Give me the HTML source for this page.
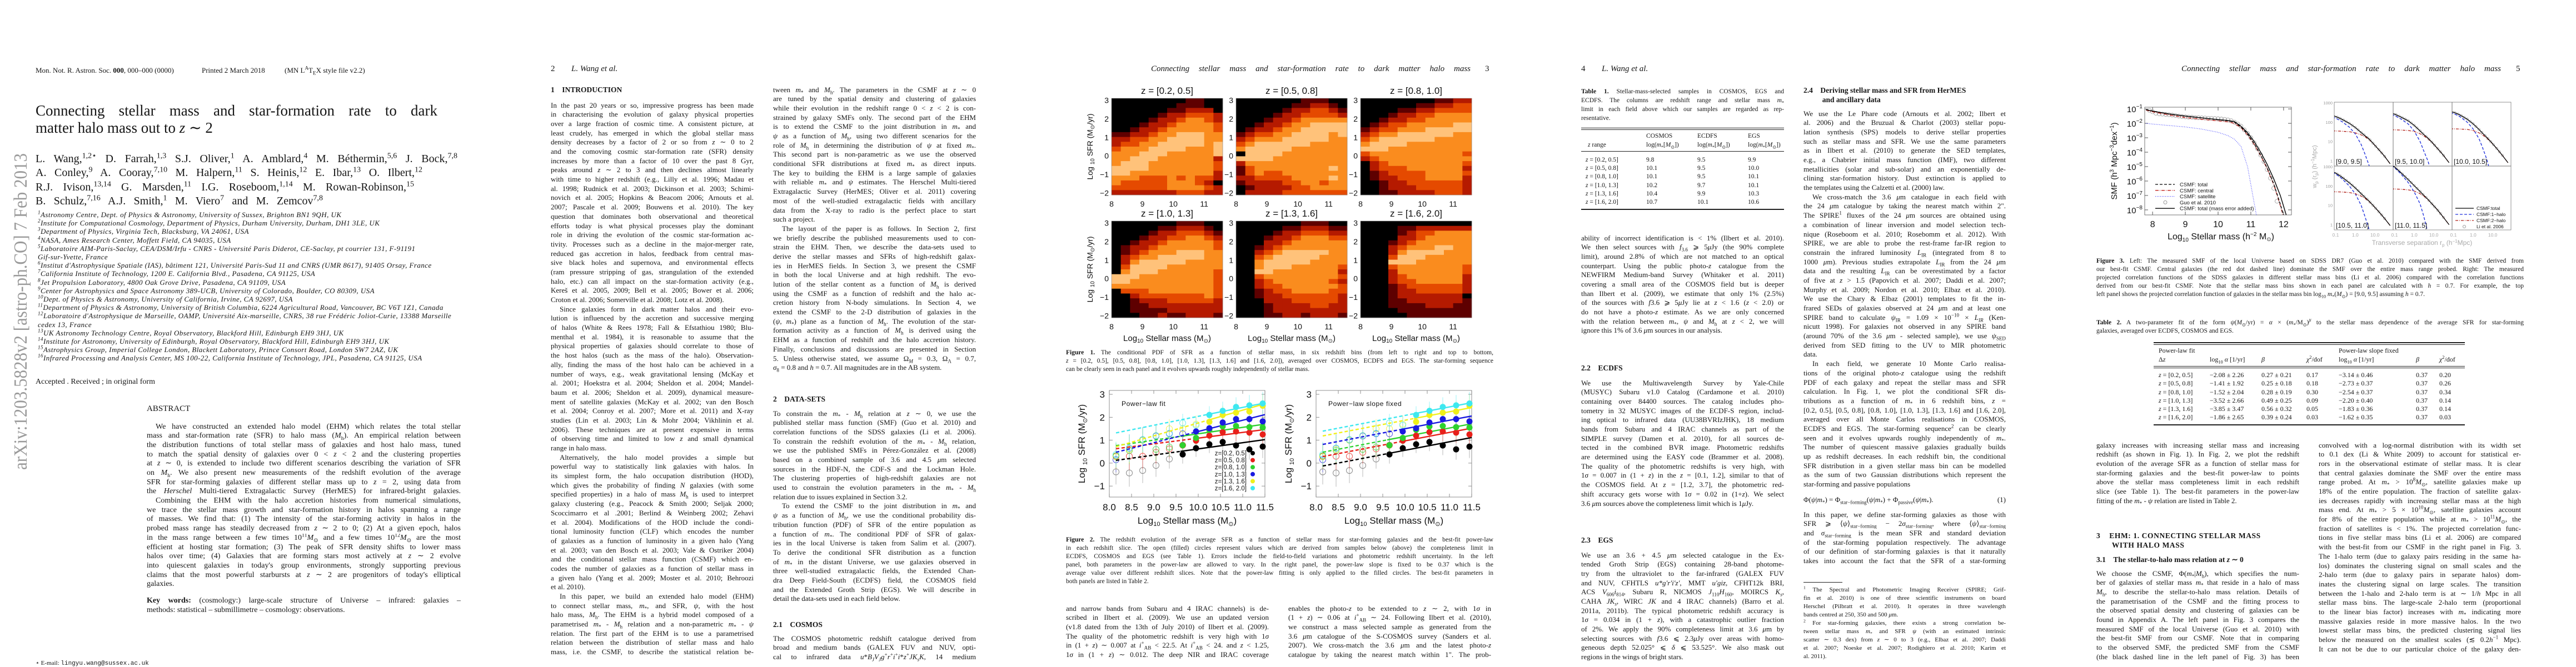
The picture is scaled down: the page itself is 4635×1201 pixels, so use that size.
<!DOCTYPE html>
<html><head><meta charset="utf-8">
<style>
body{margin:0;width:4635px;height:1200px;position:relative;background:#fff;overflow:hidden;font-family:"Liberation Serif",serif;color:#151515}
.a{position:absolute;white-space:nowrap}
.col{position:absolute;width:365px;font-size:13px;line-height:16.7px}
.col p{margin:0;height:16.7px;overflow:hidden;text-align:justify;text-align-last:justify}
.col p.l{text-align-last:left}
.col p.i{text-indent:16px}
.cap{position:absolute;font-size:11.5px;line-height:15px}
.cap p{margin:0;height:15px;overflow:hidden;text-align:justify;text-align-last:justify}
.cap p.l{text-align-last:left}
.hd{position:absolute;font-size:13.5px;font-weight:bold;white-space:nowrap}
.ph{position:absolute;top:116px;font-size:15px;font-style:italic;white-space:nowrap}
sup,sub{font-size:70%;line-height:0}
table{border-collapse:collapse}
.tb{position:absolute;font-size:11.5px}
.rule{position:absolute;background:#222;height:1.5px}
#figs{position:absolute;left:0;top:0}
</style></head>
<body>

<!-- PAGE 1 -->
<svg class="a" style="left:0;top:0" width="80" height="1200"><text x="0" y="0" transform="translate(48,846) rotate(-90)" font-family="Liberation Serif, serif" font-size="34" fill="#9a9a9a" textLength="570" lengthAdjust="spacingAndGlyphs">arXiv:1203.5828v2  [astro-ph.CO]  7 Feb 2013</text></svg>
<div class="a" style="left:64px;top:119px;font-size:13px">Mon. Not. R. Astron. Soc. <b>000</b>, 000–000 (0000)</div>
<div class="a" style="left:363px;top:119px;font-size:13px">Printed 2 March 2018</div>
<div class="a" style="left:512px;top:119px;font-size:13px">(MN L<sup>A</sup>T<sub>E</sub>X style file v2.2)</div>
<div class="a" style="left:64px;top:184px;width:723px;font-size:27px;text-align:justify;text-align-last:justify">Connecting stellar mass and star-formation rate to dark</div>
<div class="a" style="left:64px;top:215px;font-size:27px">matter halo mass out to <i>z</i> ∼ 2</div>
<div class="a" style="left:64px;top:275px;width:759px;font-size:20px;text-align:justify;text-align-last:justify">L. Wang,<sup>1,2⋆</sup> D. Farrah,<sup>1,3</sup> S.J. Oliver,<sup>1</sup> A. Amblard,<sup>4</sup> M. Béthermin,<sup>5,6</sup> J. Bock,<sup>7,8</sup></div>
<div class="a" style="left:64px;top:300px;width:696px;font-size:20px;text-align:justify;text-align-last:justify">A. Conley,<sup>9</sup> A. Cooray,<sup>7,10</sup> M. Halpern,<sup>11</sup> S. Heinis,<sup>12</sup> E. Ibar,<sup>13</sup> O. Ilbert,<sup>12</sup></div>
<div class="a" style="left:64px;top:326px;width:681px;font-size:20px;text-align:justify;text-align-last:justify">R.J. Ivison,<sup>13,14</sup> G. Marsden,<sup>11</sup> I.G. Roseboom,<sup>1,14</sup> M. Rowan-Robinson,<sup>15</sup></div>
<div class="a" style="left:64px;top:351px;width:517px;font-size:20px;text-align:justify;text-align-last:justify">B. Schulz,<sup>7,16</sup> A.J. Smith,<sup>1</sup> M. Viero<sup>7</sup> and M. Zemcov<sup>7,8</sup></div>
<div class="a" style="left:68px;top:379px;font-size:13px;line-height:15.2px;font-style:italic;letter-spacing:0.45px">
<div><sup>1</sup>Astronomy Centre, Dept. of Physics &amp; Astronomy, University of Sussex, Brighton BN1 9QH, UK</div>
<div><sup>2</sup>Institute for Computational Cosmology, Department of Physics, Durham University, Durham, DH1 3LE, UK</div>
<div><sup>3</sup>Department of Physics, Virginia Tech, Blacksburg, VA 24061, USA</div>
<div><sup>4</sup>NASA, Ames Research Center, Moffett Field, CA 94035, USA</div>
<div><sup>5</sup>Laboratoire AIM-Paris-Saclay, CEA/DSM/Irfu - CNRS - Université Paris Diderot, CE-Saclay, pt courrier 131, F-91191</div>
<div>Gif-sur-Yvette, France</div>
<div><sup>6</sup>Institut d'Astrophysique Spatiale (IAS), bâtiment 121, Université Paris-Sud 11 and CNRS (UMR 8617), 91405 Orsay, France</div>
<div><sup>7</sup>California Institute of Technology, 1200 E. California Blvd., Pasadena, CA 91125, USA</div>
<div><sup>8</sup>Jet Propulsion Laboratory, 4800 Oak Grove Drive, Pasadena, CA 91109, USA</div>
<div><sup>9</sup>Center for Astrophysics and Space Astronomy 389-UCB, University of Colorado, Boulder, CO 80309, USA</div>
<div><sup>10</sup>Dept. of Physics &amp; Astronomy, University of California, Irvine, CA 92697, USA</div>
<div><sup>11</sup>Department of Physics &amp; Astronomy, University of British Columbia, 6224 Agricultural Road, Vancouver, BC V6T 1Z1, Canada</div>
<div><sup>12</sup>Laboratoire d'Astrophysique de Marseille, OAMP, Université Aix-marseille, CNRS, 38 rue Frédéric Joliot-Curie, 13388 Marseille</div>
<div>cedex 13, France</div>
<div><sup>13</sup>UK Astronomy Technology Centre, Royal Observatory, Blackford Hill, Edinburgh EH9 3HJ, UK</div>
<div><sup>14</sup>Institute for Astronomy, University of Edinburgh, Royal Observatory, Blackford Hill, Edinburgh EH9 3HJ, UK</div>
<div><sup>15</sup>Astrophysics Group, Imperial College London, Blackett Laboratory, Prince Consort Road, London SW7 2AZ, UK</div>
<div><sup>16</sup>Infrared Processing and Analysis Center, MS 100-22, California Institute of Technology, JPL, Pasadena, CA 91125, USA</div>
</div>
<div class="a" style="left:64px;top:680px;font-size:14px">Accepted . Received ; in original form</div>
<div class="a" style="left:264px;top:728px;font-size:15px">ABSTRACT</div>
<div class="col" style="left:264px;top:760.6px;width:565px;font-size:14px">
<p class="i">We have constructed an extended halo model (EHM) which relates the total stellar</p>
<p>mass and star-formation rate (SFR) to halo mass (<i>M</i><sub>h</sub>). An empirical relation between</p>
<p>the distribution functions of total stellar mass of galaxies and host halo mass, tuned</p>
<p>to match the spatial density of galaxies over 0 &lt; <i>z</i> &lt; 2 and the clustering properties</p>
<p>at <i>z</i> ∼ 0, is extended to include two different scenarios describing the variation of SFR</p>
<p>on <i>M</i><sub>h</sub>. We also present new measurements of the redshift evolution of the average</p>
<p>SFR for star-forming galaxies of different stellar mass up to <i>z</i> = 2, using data from</p>
<p>the <i>Herschel</i> Multi-tiered Extragalactic Survey (HerMES) for infrared-bright galaxies.</p>
<p class="i">Combining the EHM with the halo accretion histories from numerical simulations,</p>
<p>we trace the stellar mass growth and star-formation history in halos spanning a range</p>
<p>of masses. We find that: (1) The intensity of the star-forming activity in halos in the</p>
<p>probed mass range has steadily decreased from <i>z</i> ∼ 2 to 0; (2) At a given epoch, halos</p>
<p>in the mass range between a few times 10<sup>11</sup><i>M</i><sub>⊙</sub> and a few times 10<sup>12</sup><i>M</i><sub>⊙</sub> are the most</p>
<p>efficient at hosting star formation; (3) The peak of SFR density shifts to lower mass</p>
<p>halos over time; (4) Galaxies that are forming stars most actively at <i>z</i> ∼ 2 evolve</p>
<p>into quiescent galaxies in today's group environments, strongly supporting previous</p>
<p>claims that the most powerful starbursts at <i>z</i> ∼ 2 are progenitors of today's elliptical</p>
<p class="l">galaxies.</p>
</div>
<div class="col" style="left:264px;top:1073px;width:565px;font-size:14px;line-height:17px">
<p><b>Key words:</b> (cosmology:) large-scale structure of Universe – infrared: galaxies –</p>
<p class="l">methods: statistical – submillimetre – cosmology: observations.</p>
</div>
<div class="a" style="left:64px;top:1187px;font-size:11px">⋆ E-mail: <span style="font-family:'Liberation Mono',monospace">lingyu.wang@sussex.ac.uk</span></div>

<!-- PAGE 2 -->
<div class="ph" style="left:991px"><span style="font-style:normal">2</span></div>
<div class="ph" style="left:1028px">L. Wang et al.</div>
<div class="hd" style="left:991px;top:154px">1&nbsp;&nbsp;&nbsp;&nbsp;INTRODUCTION</div>
<div class="col" style="left:991px;top:181.6px">
<p>In the past 20 years or so, impressive progress has been made</p>
<p>in characterising the evolution of galaxy physical properties</p>
<p>over a large fraction of cosmic time. A consistent picture, at</p>
<p>least crudely, has emerged in which the global stellar mass</p>
<p>density decreases by a factor of 2 or so from <i>z</i> ∼ 0 to 2</p>
<p>and the comoving cosmic star-formation rate (SFR) density</p>
<p>increases by more than a factor of 10 over the past 8 Gyr,</p>
<p>peaks around <i>z</i> ∼ 2 to 3 and then declines almost linearly</p>
<p>with time to higher redshift (e.g., Lilly et al. 1996; Madau et</p>
<p>al. 1998; Rudnick et al. 2003; Dickinson et al. 2003; Schimi-</p>
<p>novich et al. 2005; Hopkins &amp; Beacom 2006; Arnouts et al.</p>
<p>2007; Pascale et al. 2009; Bouwens et al. 2010). The key</p>
<p>question that dominates both observational and theoretical</p>
<p>efforts today is what physical processes play the dominant</p>
<p>role in driving the evolution of the cosmic star-formation ac-</p>
<p>tivity. Processes such as a decline in the major-merger rate,</p>
<p>reduced gas accretion in halos, feedback from central mas-</p>
<p>sive black holes and supernova, and environmental effects</p>
<p>(ram pressure stripping of gas, strangulation of the extended</p>
<p>halo, etc.) can all impact on the star-formation activity (e.g.,</p>
<p>Kereš et al. 2005, 2009; Bell et al. 2005; Bower et al. 2006;</p>
<p class="l">Croton et al. 2006; Somerville et al. 2008; Lotz et al. 2008).</p>
<p class="i">Since galaxies form in dark matter halos and their evo-</p>
<p>lution is influenced by the accretion and successive merging</p>
<p>of halos (White &amp; Rees 1978; Fall &amp; Efstathiou 1980; Blu-</p>
<p>menthal et al. 1984), it is reasonable to assume that the</p>
<p>physical properties of galaxies should correlate to those of</p>
<p>the host halos (such as the mass of the halo). Observation-</p>
<p>ally, finding the mass of the host halo can be achieved in a</p>
<p>number of ways, e.g., weak gravitational lensing (McKay et</p>
<p>al. 2001; Hoekstra et al. 2004; Sheldon et al. 2004; Mandel-</p>
<p>baum et al. 2006; Sheldon et al. 2009), dynamical measure-</p>
<p>ment of satellite galaxies (McKay et al. 2002; van den Bosch</p>
<p>et al. 2004; Conroy et al. 2007; More et al. 2011) and X-ray</p>
<p>studies (Lin et al. 2003; Lin &amp; Mohr 2004; Vikhlinin et al.</p>
<p>2006). These techniques are at present expensive in terms</p>
<p>of observing time and limited to low <i>z</i> and small dynamical</p>
<p class="l">range in halo mass.</p>
<p class="i">Alternatively, the halo model provides a simple but</p>
<p>powerful way to statistically link galaxies with halos. In</p>
<p>its simplest form, the halo occupation distribution (HOD),</p>
<p>which gives the probability of finding <i>N</i> galaxies (with some</p>
<p>specified properties) in a halo of mass <i>M</i><sub>h</sub> is used to interpret</p>
<p>galaxy clustering (e.g., Peacock &amp; Smith 2000; Seljak 2000;</p>
<p>Scoccimarro et al .2001; Berlind &amp; Weinberg 2002; Zehavi</p>
<p>et al. 2004). Modifications of the HOD include the condi-</p>
<p>tional luminosity function (CLF) which encodes the number</p>
<p>of galaxies as a function of luminosity in a given halo (Yang</p>
<p>et al. 2003; van den Bosch et al. 2003; Vale &amp; Ostriker 2004)</p>
<p>and the conditional stellar mass function (CSMF) which en-</p>
<p>codes the number of galaxies as a function of stellar mass in</p>
<p>a given halo (Yang et al. 2009; Moster et al. 2010; Behroozi</p>
<p class="l">et al. 2010).</p>
<p class="i">In this paper, we build an extended halo model (EHM)</p>
<p>to connect stellar mass, <i>m</i><sub>*</sub>, and SFR, <i>ψ</i>, with the host</p>
<p>halo mass, <i>M</i><sub>h</sub>. The EHM is a hybrid model composed of a</p>
<p>parametrised <i>m</i><sub>*</sub> - <i>M</i><sub>h</sub> relation and a non-parametric <i>m</i><sub>*</sub> - <i>ψ</i></p>
<p>relation. The first part of the EHM is to use a parametrised</p>
<p>relation between the distribution of stellar mass and halo</p>
<p>mass, i.e. the CSMF, to describe the statistical relation be-</p>
</div>
<div class="col" style="left:1391px;top:153.6px">
<p>tween <i>m</i><sub>*</sub> and <i>M</i><sub>h</sub>. The parameters in the CSMF at <i>z</i> ∼ 0</p>
<p>are tuned by the spatial density and clustering of galaxies</p>
<p>while their evolution in the redshift range 0 &lt; <i>z</i> &lt; 2 is con-</p>
<p>strained by galaxy SMFs only. The second part of the EHM</p>
<p>is to extend the CSMF to the joint distribution in <i>m</i><sub>*</sub> and</p>
<p><i>ψ</i> as a function of <i>M</i><sub>h</sub>, using two different scenarios for the</p>
<p>role of <i>M</i><sub>h</sub> in determining the distribution of <i>ψ</i> at fixed <i>m</i><sub>*</sub>.</p>
<p>This second part is non-parametric as we use the observed</p>
<p>conditional SFR distributions at fixed <i>m</i><sub>*</sub> as direct inputs.</p>
<p>The key to building the EHM is a large sample of galaxies</p>
<p>with reliable <i>m</i><sub>*</sub> and <i>ψ</i> estimates. The Herschel Multi-tiered</p>
<p>Extragalactic Survey (HerMES; Oliver et al. 2011) covering</p>
<p>most of the well-studied extragalactic fields with ancillary</p>
<p>data from the X-ray to radio is the perfect place to start</p>
<p class="l">such a project.</p>
<p class="i">The layout of the paper is as follows. In Section 2, first</p>
<p>we briefly describe the published measurements used to con-</p>
<p>strain the EHM. Then, we describe the data-sets used to</p>
<p>derive the stellar masses and SFRs of high-redshift galax-</p>
<p>ies in HerMES fields. In Section 3, we present the CSMF</p>
<p>in both the local Universe and at high redshift. The evo-</p>
<p>lution of the stellar content as a function of <i>M</i><sub>h</sub> is derived</p>
<p>using the CSMF as a function of redshift and the halo ac-</p>
<p>cretion history from N-body simulations. In Section 4, we</p>
<p>extend the CSMF to the 2-D distribution of galaxies in the</p>
<p>(<i>ψ</i>, <i>m</i><sub>*</sub>) plane as a function of <i>M</i><sub>h</sub>. The evolution of the star-</p>
<p>formation activity as a function of <i>M</i><sub>h</sub> is derived using the</p>
<p>EHM as a function of redshift and the halo accretion history.</p>
<p>Finally, conclusions and discussions are presented in Section</p>
<p>5. Unless otherwise stated, we assume Ω<sub><i>M</i></sub> = 0.3, Ω<sub>Λ</sub> = 0.7,</p>
<p class="l"><i>σ</i><sub>8</sub> = 0.8 and <i>h</i> = 0.7. All magnitudes are in the AB system.</p>
</div>
<div class="hd" style="left:1391px;top:711px">2&nbsp;&nbsp;&nbsp;&nbsp;DATA-SETS</div>
<div class="col" style="left:1391px;top:736.6px">
<p>To constrain the <i>m</i><sub>*</sub> - <i>M</i><sub>h</sub> relation at <i>z</i> ∼ 0, we use the</p>
<p>published stellar mass function (SMF) (Guo et al. 2010) and</p>
<p>correlation functions of the SDSS galaxies (Li et al. 2006).</p>
<p>To constrain the redshift evolution of the <i>m</i><sub>*</sub> - <i>M</i><sub>h</sub> relation,</p>
<p>we use the published SMFs in Pérez-González et al. (2008)</p>
<p>based on a combined sample of 3.6 and 4.5 <i>μ</i>m selected</p>
<p>sources in the HDF-N, the CDF-S and the Lockman Hole.</p>
<p>The clustering properties of high-redshift galaxies are not</p>
<p>used to constrain the evolution parameters in the <i>m</i><sub>*</sub> - <i>M</i><sub>h</sub></p>
<p class="l">relation due to issues explained in Section 3.2.</p>
<p class="i">To extend the CSMF to the joint distribution in <i>m</i><sub>*</sub> and</p>
<p><i>ψ</i> as a function of <i>M</i><sub>h</sub>, we use the conditional probability dis-</p>
<p>tribution function (PDF) of SFR of the entire population as</p>
<p>a function of <i>m</i><sub>*</sub>. The conditional PDF of SFR of galax-</p>
<p>ies in the local Universe is taken from Salim et al. (2007).</p>
<p>To derive the conditional SFR distribution as a function</p>
<p>of <i>m</i><sub>*</sub> in the distant Universe, we use galaxies observed in</p>
<p>three well-studied extragalactic fields, the Extended Chan-</p>
<p>dra Deep Field-South (ECDFS) field, the COSMOS field</p>
<p>and the Extended Groth Strip (EGS). We will describe in</p>
<p class="l">detail the data-sets used in each field below.</p>
</div>
<div class="hd" style="left:1391px;top:1117px">2.1&nbsp;&nbsp;&nbsp;&nbsp;COSMOS</div>
<div class="col" style="left:1391px;top:1141.6px">
<p>The COSMOS photometric redshift catalogue derived from</p>
<p>broad and medium bands (GALEX FUV and NUV, opti-</p>
<p>cal to infrared data <i>u</i>*<i>B<sub>J</sub>V<sub>J</sub>g</i><sup>+</sup><i>r</i><sup>+</sup><i>i</i><sup>+</sup><i>i</i>*<i>z</i><sup>+</sup><i>JK<sub>s</sub>K</i>, 14 medium</p>
</div>

<!-- PAGE 3 -->
<div class="ph" style="left:2071px;width:575px;text-align:justify;text-align-last:justify">Connecting stellar mass and star-formation rate to dark matter halo mass</div>
<div class="ph" style="left:2672px;font-style:normal">3</div>
<div class="cap" style="left:1918px;top:628px;width:769px">
<p><b>Figure 1.</b> The conditional PDF of SFR as a function of stellar mass, in six redshift bins (from left to right and top to bottom,</p>
<p><i>z</i> = [0.2, 0.5], [0.5, 0.8], [0.8, 1.0], [1.0, 1.3], [1.3, 1.6] and [1.6, 2.0]), averaged over COSMOS, ECDFS and EGS. The star-forming sequence</p>
<p class="l">can be clearly seen in each panel and it evolves upwards roughly independently of stellar mass.</p>
</div>
<div class="cap" style="left:1918px;top:965px;width:769px">
<p><b>Figure 2.</b> The redshift evolution of the average SFR as a function of stellar mass for star-forming galaxies and the best-fit power-law</p>
<p>in each redshift slice. The open (filled) circles represent values which are derived from samples below (above) the completeness limit in</p>
<p>ECDFS, COSMOS and EGS (see Table 1). Errors include the field-to-field variations and photometric redshift uncertainty. In the left</p>
<p>panel, both parameters in the power-law are allowed to vary. In the right panel, the power-law slope is fixed to be 0.37 which is the</p>
<p>average value over different redshift slices. Note that the power-law fitting is only applied to the filled circles. The best-fit parameters in</p>
<p class="l">both panels are listed in Table 2.</p>
</div>
<div class="col" style="left:1918px;top:1087.6px">
<p>and narrow bands from Subaru and 4 IRAC channels) is de-</p>
<p>scribed in Ilbert et al. (2009). We use an updated version</p>
<p>(v1.8 dated from the 13th of July 2010) of Ilbert et al. (2009).</p>
<p>The quality of the photometric redshift is very high with 1<i>σ</i></p>
<p>in (1 + <i>z</i>) ∼ 0.007 at <i>i</i><sup>+</sup><sub>AB</sub> &lt; 22.5. At <i>i</i><sup>+</sup><sub>AB</sub> &lt; 24. and <i>z</i> &lt; 1.25,</p>
<p>1<i>σ</i> in (1 + <i>z</i>) ∼ 0.012. The deep NIR and IRAC coverage</p>
</div>
<div class="col" style="left:2318px;top:1087.6px">
<p>enables the photo-<i>z</i> to be extended to <i>z</i> ∼ 2, with 1<i>σ</i> in</p>
<p>(1 + <i>z</i>) ∼ 0.06 at <i>i</i><sup>+</sup><sub>AB</sub> ∼ 24. Following Ilbert et al. (2010),</p>
<p>we construct a mass selected sample as generated from the</p>
<p>3.6 <i>μ</i>m catalogue of the S-COSMOS survey (Sanders et al.</p>
<p>2007). We cross-match the 3.6 <i>μ</i>m and the latest photo-<i>z</i></p>
<p>catalogue by taking the nearest match within 1". The prob-</p>
</div>

<!-- PAGE 4 -->
<div class="ph" style="left:2845px;font-style:normal">4</div>
<div class="ph" style="left:2882px">L. Wang et al.</div>
<div class="cap" style="left:2845px;top:157px;width:365px;line-height:16px">
<p style="height:16px"><b>Table 1.</b> Stellar-mass-selected samples in COSMOS, EGS and</p>
<p style="height:16px">ECDFS. The columns are redshift range and stellar mass <i>m</i><sub>*</sub></p>
<p style="height:16px">limit in each field above which our samples are regarded as rep-</p>
<p class="l" style="height:16px">resentative.</p>
</div>
<div class="rule" style="left:2845px;top:230px;width:365px;height:1px"></div>
<div class="rule" style="left:2845px;top:233px;width:365px;height:1px"></div>
<div class="rule" style="left:2845px;top:272px;width:365px;height:1px"></div>
<div class="rule" style="left:2845px;top:376px;width:365px"></div>
<div class="tb" style="left:2845px;top:238px;font-size:11.5px;line-height:15.5px">
<div class="a" style="left:117px;top:0">COSMOS</div><div class="a" style="left:209px;top:0">ECDFS</div><div class="a" style="left:300px;top:0">EGS</div>
<div class="a" style="left:12px;top:16px"><i>z</i> range</div><div class="a" style="left:117px;top:16px">log(<i>m</i><sub>*</sub>[<i>M</i><sub>⊙</sub>])</div><div class="a" style="left:209px;top:16px">log(<i>m</i><sub>*</sub>[<i>M</i><sub>⊙</sub>])</div><div class="a" style="left:300px;top:16px">log(<i>m</i><sub>*</sub>[<i>M</i><sub>⊙</sub>])</div>
<div class="a" style="left:8px;top:43px;line-height:15.2px"><i>z</i> = [0.2, 0.5]<br><i>z</i> = [0.5, 0.8]<br><i>z</i> = [0.8, 1.0]<br><i>z</i> = [1.0, 1.3]<br><i>z</i> = [1.3, 1.6]<br><i>z</i> = [1.6, 2.0]</div>
<div class="a" style="left:117px;top:43px;line-height:15.2px">9.8<br>10.1<br>10.1<br>10.2<br>10.4<br>10.7</div>
<div class="a" style="left:209px;top:43px;line-height:15.2px">9.5<br>9.5<br>9.5<br>9.7<br>9.9<br>10.1</div>
<div class="a" style="left:300px;top:43px;line-height:15.2px">9.9<br>10.0<br>10.1<br>10.1<br>10.3<br>10.6</div>
</div>
<div class="col" style="left:2845px;top:420.6px">
<p>ability of incorrect identification is &lt; 1% (Ilbert et al. 2010).</p>
<p>We then select sources with <i>f</i><sub>3.6</sub> ⩾ 5<i>μ</i>Jy (the 90% complete</p>
<p>limit), around 2.8% of which are not matched to an optical</p>
<p>counterpart. Using the public photo-<i>z</i> catalogue from the</p>
<p>NEWFIRM Medium-band Survey (Whitaker et al. 2011)</p>
<p>covering a small area of the COSMOS field but is deeper</p>
<p>than Ilbert et al. (2009), we estimate that only 1% (2.5%)</p>
<p>of the sources with <i>f</i>3.6 ⩾ 5<i>μ</i>Jy lie at <i>z</i> &lt; 1.6 (<i>z</i> &lt; 2.0) or</p>
<p>do not have a photo-<i>z</i> estimate. As we are only concerned</p>
<p>with the relation between <i>m</i><sub>*</sub>, <i>ψ</i> and <i>M</i><sub>h</sub> at <i>z</i> &lt; 2, we will</p>
<p class="l">ignore this 1% of 3.6 <i>μ</i>m sources in our analysis.</p>
</div>
<div class="hd" style="left:2845px;top:655px">2.2&nbsp;&nbsp;&nbsp;&nbsp;ECDFS</div>
<div class="col" style="left:2845px;top:681.6px">
<p>We use the Multiwavelength Survey by Yale-Chile</p>
<p>(MUSYC) Subaru v1.0 Catalog (Cardamone et al. 2010)</p>
<p>containing over 84400 sources. The catalog includes pho-</p>
<p>tometry in 32 MUSYC images of the ECDF-S region, includ-</p>
<p>ing optical to infrared data (UU38BVRIzJHK), 18 medium</p>
<p>bands from Subaru and 4 IRAC channels as part of the</p>
<p>SIMPLE survey (Damen et al. 2010), for all sources de-</p>
<p>tected in the combined BVR image. Photometric redshifts</p>
<p>are determined using the EASY code (Brammer et al. 2008).</p>
<p>The quality of the photometric redshifts is very high, with</p>
<p>1<i>σ</i> = 0.007 in (1 + <i>z</i>) in the <i>z</i> = [0.1, 1.2], similar to that of</p>
<p>the COSMOS field. At <i>z</i> = [1.2, 3.7], the photometric red-</p>
<p>shift accuracy gets worse with 1<i>σ</i> = 0.02 in (1+<i>z</i>). We select</p>
<p class="l">3.6 <i>μ</i>m sources above the completeness limit which is 1<i>μ</i>Jy.</p>
</div>
<div class="hd" style="left:2845px;top:965px">2.3&nbsp;&nbsp;&nbsp;&nbsp;EGS</div>
<div class="col" style="left:2845px;top:991.6px">
<p>We use an 3.6 + 4.5 <i>μ</i>m selected catalogue in the Ex-</p>
<p>tended Groth Strip (EGS) containing 28-band photome-</p>
<p>try from the ultraviolet to the far-infrared (GALEX FUV</p>
<p>and NUV, CFHTLS <i>u*g'r'i'z'</i>, MMT <i>u'giz</i>, CFHT12k BRI,</p>
<p>ACS <i>V</i><sub>606</sub><i>i</i><sub>814</sub>, Subaru R, NICMOS <i>J</i><sub>110</sub><i>H</i><sub>160</sub>, MOIRCS <i>K<sub>s</sub></i>,</p>
<p>CAHA <i>JK<sub>s</sub></i>, WIRC <i>JK</i> and 4 IRAC channels) (Barro et al.</p>
<p>2011a, 2011b). The typical photometric redshift accuracy is</p>
<p>1<i>σ</i> = 0.034 in (1 + <i>z</i>), with a catastrophic outlier fraction</p>
<p>of 2%. We apply the 90% completeness limit at 3.6 <i>μ</i>m by</p>
<p>selecting sources with <i>f</i>3.6 ⩽ 2.3<i>μ</i>Jy over areas with homo-</p>
<p>geneous depth 52.025° ⩽ <i>δ</i> ⩽ 53.525°. We also mask out</p>
<p class="l">regions in the wings of bright stars.</p>
</div>
<div class="hd" style="left:3245px;top:154px;line-height:17px">2.4&nbsp;&nbsp;&nbsp;&nbsp;Deriving stellar mass and SFR from HerMES<br>&nbsp;&nbsp;&nbsp;&nbsp;&nbsp;&nbsp;&nbsp;&nbsp;&nbsp;&nbsp;and ancillary data</div>
<div class="col" style="left:3245px;top:196.6px;width:364px">
<p>We use the Le Phare code (Arnouts et al. 2002; Ilbert et</p>
<p>al. 2006) and the Bruzual &amp; Charlot (2003) stellar popu-</p>
<p>lation synthesis (SPS) models to derive stellar properties</p>
<p>such as stellar mass and SFR. We use the same parameters</p>
<p>as in Ilbert et al. (2010) to generate the SED templates,</p>
<p>e.g., a Chabrier initial mass function (IMF), two different</p>
<p>metallicities (solar and sub-solar) and an exponentially de-</p>
<p>clining star-formation history. Dust extinction is applied to</p>
<p class="l">the templates using the Calzetti et al. (2000) law.</p>
<p class="i">We cross-match the 3.6 <i>μ</i>m catalogue in each field with</p>
<p>the 24 <i>μ</i>m catalogue by taking the nearest match within 2".</p>
<p>The SPIRE<sup>1</sup> fluxes of the 24 <i>μ</i>m sources are obtained using</p>
<p>a combination of linear inversion and model selection tech-</p>
<p>nique (Roseboom et al. 2010; Rosebomm et al. 2012). With</p>
<p>SPIRE, we are able to probe the rest-frame far-IR region to</p>
<p>constrain the infrared luminosity <i>L</i><sub>IR</sub> (integrated from 8 to</p>
<p>1000 <i>μ</i>m). Previous studies extrapolate <i>L</i><sub>IR</sub> from the 24 <i>μ</i>m</p>
<p>data and the resulting <i>L</i><sub>IR</sub> can be overestimated by a factor</p>
<p>of five at <i>z</i> &gt; 1.5 (Papovich et al. 2007; Daddi et al. 2007;</p>
<p>Murphy et al. 2009; Nordon et al. 2010; Elbaz et al. 2010).</p>
<p>We use the Chary &amp; Elbaz (2001) templates to fit the in-</p>
<p>frared SEDs of galaxies observed at 24 <i>μ</i>m and at least one</p>
<p>SPIRE band to calculate <i>ψ</i><sub>IR</sub> = 1.09 × 10<sup>−10</sup> × <i>L<sub>IR</sub></i> (Ken-</p>
<p>nicutt 1998). For galaxies not observed in any SPIRE band</p>
<p>(around 70% of the 3.6 <i>μ</i>m - selected sample), we use <i>ψ</i><sub>SED</sub></p>
<p>derived from SED fitting to the UV to MIR photometric</p>
<p class="l">data.</p>
<p class="i">In each field, we generate 10 Monte Carlo realisa-</p>
<p>tions of the original photo-<i>z</i> catalogue using the redshift</p>
<p>PDF of each galaxy and repeat the stellar mass and SFR</p>
<p>calculation. In Fig. 1, we plot the conditional SFR dis-</p>
<p>tributions as a function of <i>m</i><sub>*</sub> in 6 redshift bins, <i>z</i> =</p>
<p>[0.2, 0.5], [0.5, 0.8], [0.8, 1.0], [1.0, 1.3], [1.3, 1.6] and [1.6, 2.0],</p>
<p>averaged over all Monte Carlos realisations in COSMOS,</p>
<p>ECDFS and EGS. The star-forming sequence<sup>2</sup> can be clearly</p>
<p>seen and it evolves upwards roughly independently of <i>m</i><sub>*</sub>.</p>
<p>The number of quiescent massive galaxies gradually builds</p>
<p>up as redshift decreases. In each redshift bin, the conditional</p>
<p>SFR distribution in a given stellar mass bin can be modelled</p>
<p>as the sum of two Gaussian distributions which represent the</p>
<p class="l">star-forming and passive populations</p>
</div>
<div class="a" style="left:3245px;top:892px;width:364px;font-size:13px">Φ(<i>ψ</i>|<i>m</i><sub>*</sub>) = Φ<sub>star−forming</sub>(<i>ψ</i>|<i>m</i><sub>*</sub>) + Φ<sub>passive</sub>(<i>ψ</i>|<i>m</i><sub>*</sub>).<span style="position:absolute;right:0">(1)</span></div>
<div class="col" style="left:3245px;top:918.6px;width:364px">
<p>In this paper, we define star-forming galaxies as those with</p>
<p>SFR ⩾ ⟨<i>ψ</i>⟩<sub>star−forming</sub> − 2<i>σ</i><sub>star−forming</sub>, where ⟨<i>ψ</i>⟩<sub>star−forming</sub></p>
<p>and <i>σ</i><sub>star−forming</sub> is the mean SFR and standard deviation</p>
<p>of the star-forming population respectively. The advantage</p>
<p>of our definition of star-forming galaxies is that it naturally</p>
<p>takes into account the fact that the SFR of a star-forming</p>
</div>
<div class="rule" style="left:3245px;top:1048px;width:70px;height:1px"></div>
<div class="cap" style="left:3245px;top:1055px;width:364px;font-size:11px">
<p><sup>1</sup> The Spectral and Photometric Imaging Receiver (SPIRE; Grif-</p>
<p>fin et al. 2010) is one of three scientific instruments on board</p>
<p>Herschel (Pilbratt et al. 2010). It operates in three wavelength</p>
<p class="l">bands centred at 250, 350 and 500 <i>μ</i>m.</p>
<p><sup>2</sup> For star-forming galaxies, there exists a strong correlation be-</p>
<p>tween stellar mass <i>m</i><sub>*</sub> and SFR <i>ψ</i> (with an estimated intrinsic</p>
<p>scatter ∼ 0.3 dex) from <i>z</i> ∼ 0 to 3 (e.g., Elbaz et al. 2007; Daddi</p>
<p>et al. 2007; Noeske et al. 2007; Rodighiero et al. 2010; Karim et</p>
<p class="l">al. 2011).</p>
</div>

<!-- PAGE 5 -->
<div class="ph" style="left:3925px;width:575px;text-align:justify;text-align-last:justify">Connecting stellar mass and star-formation rate to dark matter halo mass</div>
<div class="ph" style="left:4527px;font-style:normal">5</div>
<div class="cap" style="left:3772px;top:463px;width:769px">
<p><b>Figure 3.</b> Left: The measured SMF of the local Universe based on SDSS DR7 (Guo et al. 2010) compared with the SMF derived from</p>
<p>our best-fit CSMF. Central galaxies (the red dot dashed line) dominate the SMF over the entire mass range probed. Right: The measured</p>
<p>projected correlation functions of the SDSS galaxies in different stellar mass bins (Li et al. 2006) compared with the correlation functions</p>
<p>derived from our best-fit CSMF. Note that the stellar mass bins shown in each panel are calculated with <i>h</i> = 0.7. For example, the top</p>
<p class="l">left panel shows the projected correlation function of galaxies in the stellar mass bin log<sub>10</sub> <i>m</i><sub>*</sub>(<i>M</i><sub>⊙</sub>) = [9.0, 9.5] assuming <i>h</i> = 0.7.</p>
</div>
<div class="cap" style="left:3772px;top:574px;width:769px">
<p><b>Table 2.</b> A two-parameter fit of the form <i>ψ</i>(<i>M</i><sub>⊙</sub>/yr) = <i>α</i> × (<i>m</i><sub>*</sub>/M<sub>⊙</sub>)<sup><i>β</i></sup> to the stellar mass dependence of the average SFR for star-forming</p>
<p class="l">galaxies, averaged over ECDFS, COSMOS and EGS.</p>
</div>
<div class="rule" style="left:3875px;top:616px;width:560px;height:1.5px"></div>
<div class="rule" style="left:3875px;top:619.5px;width:560px;height:1.5px"></div>
<div class="rule" style="left:3875px;top:659px;width:560px;height:1.2px"></div>
<div class="rule" style="left:3875px;top:662px;width:560px;height:1.2px"></div>
<div class="rule" style="left:3875px;top:764px;width:560px;height:2px"></div>
<div class="tb" style="left:3708px;top:624px;font-size:12px">
<div class="a" style="left:176px;top:0">Power-law fit</div><div class="a" style="left:500px;top:0">Power-law slope fixed</div>
<div class="a" style="left:176px;top:16px">Δ<i>z</i></div><div class="a" style="left:268px;top:16px">log<sub>10</sub> <i>α</i> [1/yr]</div><div class="a" style="left:361px;top:16px"><i>β</i></div><div class="a" style="left:442px;top:16px"><i>χ</i><sup>2</sup>/dof</div><div class="a" style="left:500px;top:16px">log<sub>10</sub> <i>α</i> [1/yr]</div><div class="a" style="left:639px;top:16px"><i>β</i></div><div class="a" style="left:681px;top:16px"><i>χ</i><sup>2</sup>/dof</div>
<div class="a" style="left:176px;top:44px;line-height:15.3px"><i>z</i> = [0.2, 0.5]<br><i>z</i> = [0.5, 0.8]<br><i>z</i> = [0.8, 1.0]<br><i>z</i> = [1.0, 1.3]<br><i>z</i> = [1.3, 1.6]<br><i>z</i> = [1.6, 2.0]</div>
<div class="a" style="left:268px;top:44px;line-height:15.3px">−2.08 ± 2.26<br>−1.41 ± 1.92<br>−1.52 ± 2.04<br>−3.52 ± 2.66<br>−3.85 ± 3.47<br>−1.86 ± 2.65</div>
<div class="a" style="left:361px;top:44px;line-height:15.3px">0.27 ± 0.21<br>0.25 ± 0.18<br>0.28 ± 0.19<br>0.49 ± 0.25<br>0.56 ± 0.32<br>0.39 ± 0.24</div>
<div class="a" style="left:442px;top:44px;line-height:15.3px">0.17<br>0.18<br>0.30<br>0.09<br>0.05<br>0.03</div>
<div class="a" style="left:500px;top:44px;line-height:15.3px">−3.14 ± 0.46<br>−2.73 ± 0.37<br>−2.54 ± 0.37<br>−2.20 ± 0.40<br>−1.83 ± 0.36<br>−1.62 ± 0.35</div>
<div class="a" style="left:639px;top:44px;line-height:15.3px">0.37<br>0.37<br>0.37<br>0.37<br>0.37<br>0.37</div>
<div class="a" style="left:681px;top:44px;line-height:15.3px">0.20<br>0.26<br>0.34<br>0.14<br>0.14<br>0.03</div>
</div>
<div class="col" style="left:3772px;top:793.6px">
<p>galaxy increases with increasing stellar mass and increasing</p>
<p>redshift (as shown in Fig. 1). In Fig. 2, we plot the redshift</p>
<p>evolution of the average SFR as a function of stellar mass for</p>
<p>star-forming galaxies and the best-fit power-law to points</p>
<p>above the stellar mass completeness limit in each redshift</p>
<p>slice (see Table 1). The best-fit parameters in the power-law</p>
<p class="l">fitting of the <i>m</i><sub>*</sub> - <i>ψ</i> relation are listed in Table 2.</p>
</div>
<div class="hd" style="left:3772px;top:956px;line-height:17px;letter-spacing:0.6px">3&nbsp;&nbsp;&nbsp;&nbsp;EHM: 1. CONNECTING STELLAR MASS<br>&nbsp;&nbsp;&nbsp;&nbsp;&nbsp;&nbsp;&nbsp;WITH HALO MASS</div>
<div class="hd" style="left:3772px;top:1000px">3.1&nbsp;&nbsp;&nbsp;&nbsp;The stellar-to-halo mass relation at <i>z</i> ∼ 0</div>
<div class="col" style="left:3772px;top:1024.6px">
<p>We choose the CSMF, Φ(<i>m</i><sub>*</sub>|<i>M</i><sub>h</sub>), which specifies the num-</p>
<p>ber of galaxies of stellar mass <i>m</i><sub>*</sub> that reside in a halo of mass</p>
<p><i>M</i><sub>h</sub>, to describe the stellar-to-halo mass relation. Details of</p>
<p>the parametrisation of the CSMF and the fitting process to</p>
<p>the observed spatial density and clustering of galaxies can be</p>
<p>found in Appendix A. The left panel in Fig. 3 compares the</p>
<p>measured SMF of the local Universe (Guo et al. 2010) with</p>
<p>the best-fit SMF from our CSMF. Note that in comparing</p>
<p>to the observed SMF, the predicted SMF from the CSMF</p>
<p>(the black dashed line in the left panel of Fig. 3) has been</p>
</div>
<div class="col" style="left:4172px;top:793.6px;width:364px">
<p>convolved with a log-normal distribution with its width set</p>
<p>to 0.1 dex (Li &amp; White 2009) to account for statistical er-</p>
<p>rors in the observational estimate of stellar mass. It is clear</p>
<p>that central galaxies dominate the SMF over the entire mass</p>
<p>range probed. At <i>m</i><sub>*</sub> &gt; 10<sup>8</sup><i>M</i><sub>⊙</sub>, satellite galaxies make up</p>
<p>18% of the entire population. The fraction of satellite galax-</p>
<p>ies decreases rapidly with increasing stellar mass at the high</p>
<p>mass end. At <i>m</i><sub>*</sub> &gt; 5 × 10<sup>10</sup><i>M</i><sub>⊙</sub>, satellite galaxies account</p>
<p>for 8% of the entire population while at <i>m</i><sub>*</sub> &gt; 10<sup>11</sup><i>M</i><sub>⊙</sub>, the</p>
<p>fraction of satellites is &lt; 1%. The projected correlation func-</p>
<p>tions in five stellar mass bins (Li et al. 2006) are compared</p>
<p>with the best-fit from our CSMF in the right panel in Fig. 3.</p>
<p>The 1-halo term (due to galaxy pairs residing in the same ha-</p>
<p>los) dominates the clustering signal on small scales and the</p>
<p>2-halo term (due to galaxy pairs in separate halos) dom-</p>
<p>inates the clustering signal on large scales. The transition</p>
<p>between the 1-halo and 2-halo term is at ∼ 1/<i>h</i> Mpc in all</p>
<p>stellar mass bins. The large-scale 2-halo term (proportional</p>
<p>to the linear bias factor) increases with <i>m</i><sub>*</sub> indicating more</p>
<p>massive galaxies reside in more massive halos. In the two</p>
<p>lowest stellar mass bins, the predicted clustering signal lies</p>
<p>below the measured on the smallest scales (≲ 0.2<i>h</i><sup>−1</sup> Mpc).</p>
<p>It can not be due to our particular choice of the galaxy den-</p>
</div>

<svg id="figs" width="4635" height="1200" font-family="Liberation Sans, sans-serif"></svg>

<script>
// ===== FIGURE 1 DATA: conditional SFR PDF heatmaps (12 mass bins x 20 SFR bins, level 0-5) =====
const hmTitles=['z = [0.2, 0.5]','z = [0.5, 0.8]','z = [0.8, 1.0]','z = [1.0, 1.3]','z = [1.3, 1.6]','z = [1.6, 2.0]'];
const hmXTicks=[8,9,10,11];
const hmYTicks=[3,2,1,0,-1,-2];
const hmYTickLabels=['3','2','1','0','−1','−2'];
const hmColors=['#000000','#5e0000','#b51a00','#e54a00','#fa8c1e','#ffc27a'];
const hm1=['000000001100','000000011100','000000112220','000001223332','000012234432','000122344443','001223444443','112234455544','223344555544','233445555545','344455554445','444555444445','445554444442','455544444443','555544444443','554444444442','444333434332','433333444320','333333444432','222222233322'];
const hm2=['000000011100','000000112210','000001223321','000012233332','000122344444','001223445555','012234455555','123344555545','234445555544','345555554444','455555444444','055554444444','555544444444','244444444444','134444444454','134334444444','223333444454','122223344344','012222334444','022223333333'];
const hm3=['000000001122','000000112233','000011223333','000122334444','001223344444','012334444455','123344455555','234455555544','345555554444','455554444444','555444444444','344444444443','234444444444','023444444443','023334444442','012333344443','012233344442','001223333332','001222333332','001122223332'];
const hm4=['000000011100','000001122210','000012233321','000122334432','001223444443','012234444443','012344455544','023445555544','024555554444','035555444444','045554444443','555444444443','554444444443','444444444443','033344444443','002333333343','001222333332','001122222222','001111222222','000112112221'];
const hm5=['000000011100','000001122211','000012233322','000122344433','000223444444','001234444444','002345555544','003455555444','004555554444','004555444443','005544444442','003444444443','002344444432','002334444443','001233444433','001223333332','000222333332','000122223322','000122222222','000112212221'];
const hm6=['000000000000','000011222222','000012334444','000022344444','000123444444','000234445544','000245555444','000355544444','000555444444','000344444443','000244444443','000234444442','000233444442','000123333332','000122333332','000122222220','000112222221','000111122211','000011111111','000001111111'];

// ===== FIGURE 2 DATA: average SFR vs stellar mass =====
const f2Mass=[8.15,8.45,8.75,9.05,9.35,9.65,9.95,10.25,10.55,10.85,11.15,11.45];
const f2Z02=[-0.38,-0.43,-0.32,-0.1,0.18,0.38,0.65,0.82,0.92,0.77,0.6,0.72];
const f2Z05=[0.3,0.3,0.3,0.47,0.62,0.78,0.98,1.2,1.35,1.38,1.33,1.25];
const f2Z08=[0.32,0.55,1.0,0.6,0.7,0.78,1.1,1.45,1.6,1.62,1.57,1.55];
const f2Z10=[0.15,0.65,1.02,1.18,1.28,1.28,1.38,1.52,1.77,1.92,1.92,1.82];
const f2Z13=[0.28,0.6,1.0,1.2,1.5,1.5,1.7,1.8,2.1,2.2,2.25,2.5];
const f2Z16=[0.38,0.65,1.02,1.2,1.3,1.75,1.65,2.1,2.28,2.45,2.52,2.6];
const f2Err=[0.55,0.6,0.55,0.5,0.42,0.4,0.38,0.38,0.4,0.42,0.45,0.5];
const f2Limit=[9.6,9.9,9.6,9.9,10.2,10.2];
const f2Labels=['z=[0.2, 0.5]','z=[0.5, 0.8]','z=[0.8, 1.0]','z=[1.0, 1.3]','z=[1.3, 1.6]','z=[1.6, 2.0]'];
const fitAlpha=[-2.08,-1.41,-1.52,-3.52,-3.85,-1.86];
const fitBeta=[0.27,0.25,0.28,0.49,0.56,0.39];
const fixAlpha=[-3.14,-2.73,-2.54,-2.20,-1.83,-1.62];
const fixBeta=[0.37,0.37,0.37,0.37,0.37,0.37];
const f2XTicks=[8.0,8.5,9.0,9.5,10.0,10.5,11.0,11.5];
const f2XTickLabels=['8.0','8.5','9.0','9.5','10.0','10.5','11.0','11.5'];
const f2YTicks=[3,2,1,0,-1];
const f2YTickLabels=['3','2','1','0','−1'];

// ===== FIGURE 3 LEFT DATA: stellar mass function =====
const smfMass=[7.8,8.0,8.5,9.0,9.5,10.0,10.3,10.5,10.7,10.9,11.1,11.3,11.5,11.7,11.9,12.1];
const smfTotal=[-1.05,-1.15,-1.35,-1.5,-1.62,-1.75,-1.82,-1.92,-2.25,-2.75,-3.4,-4.2,-5.1,-6.2,-7.6,-9.2];
const smfCentral=[-1.08,-1.2,-1.42,-1.6,-1.72,-1.83,-1.9,-2.0,-2.3,-2.8,-3.45,-4.25,-5.15,-6.25,-7.7,-9.3];
const smfSatellite=[-2.0,-2.05,-2.15,-2.25,-2.4,-2.62,-2.85,-3.1,-3.6,-5.0,-7.5,-10,-12,-14,-16,-18];
const smfMassErr=[-1.05,-1.15,-1.35,-1.5,-1.62,-1.74,-1.8,-1.88,-2.2,-2.65,-3.25,-4.0,-4.85,-5.85,-7.0,-8.5];
const guoMass=[7.9,8.0,8.1,8.2,8.3,8.4,8.5,8.6,8.7,8.8,8.9,9.0,9.1,9.2,9.3,9.4,9.5,9.6,9.7,9.8,9.9,10.0,10.1,10.2,10.3,10.4,10.5,10.6,10.7,10.8,10.9,11.0,11.1,11.2,11.3,11.4,11.5,11.6,11.7,11.8];
const guoPhi=[-1.1,-1.2,-1.3,-1.34,-1.36,-1.38,-1.4,-1.43,-1.46,-1.5,-1.53,-1.55,-1.57,-1.58,-1.6,-1.61,-1.62,-1.63,-1.65,-1.66,-1.67,-1.68,-1.7,-1.72,-1.76,-1.82,-1.92,-2.05,-2.2,-2.45,-2.7,-3.0,-3.35,-3.75,-4.2,-4.65,-5.2,-5.8,-6.5,-7.4];
const smfXTicks=[8,9,10,11,12];
const smfYTicks=[-1,-2,-3,-4,-5,-6,-7,-8];

// ===== FIGURE 3 RIGHT DATA: projected correlation functions =====
const rpGrid=[0.07,0.1,0.2,0.5,1,2,3,5,8,15,30,60];
const wpBins=['[9.0, 9.5]','[9.5, 10.0]','[10.0, 10.5]','[10.5, 11.0]','[11.0, 11.5]'];
const oneHalo1=[190,160,110,55,25,7,2.5,0.6,0.1,0.01,0.001,0.0001];
const oneHalo2=[240,220,150,80,35,10,3.5,1,0.2,0.01,0.001,0.0001];
const oneHalo3=[300,280,200,100,45,14,5,1.2,0.2,0.01,0.001,0.0001];
const oneHalo4=[500,420,250,100,40,10,3,0.6,0.05,0.001,0.0001,0.00001];
const oneHalo5=[1100,900,450,150,50,12,3,0.4,0.02,0.001,0.0001,0.00001];
const twoHalo1=[35,35,34,32,28,22,18,13,8,4,1.8,0.7];
const twoHalo2=[40,40,39,37,33,25,20,14,9,4.5,2,0.8];
const twoHalo3=[45,45,44,42,37,28,22,15,9.5,4.7,2,0.8];
const twoHalo4=[50,50,49,46,40,30,24,16,10,5,2.2,0.9];
const twoHalo5=[70,70,68,63,55,40,31,20,12,6,2.5,1];
const liRp=[0.12,0.17,0.25,0.35,0.5,0.7,1,1.4,2,2.8,4,5.6,8,11,16,22,31];
const wpXTicks=[0.1,1,10];
const wpXTickLabels=['0.1','1.0','10.0'];
const wpYTicks=[1000,100,10,1];

const NS='http://www.w3.org/2000/svg';
const svg=document.getElementById('figs');
function mk(tag,attrs,parent){const e=document.createElementNS(NS,tag);for(const k in attrs)e.setAttribute(k,attrs[k]);(parent||svg).appendChild(e);return e;}
function txt(str,attrs,parent){const e=mk('text',attrs,parent);e.textContent=str;return e;}
function interp(xs,ys,x){if(x<=xs[0])return ys[0];for(let i=1;i<xs.length;i++){if(x<=xs[i]){const t=(x-xs[i-1])/(xs[i]-xs[i-1]);return ys[i-1]+t*(ys[i]-ys[i-1]);}}return ys[ys.length-1];}

// ---------- FIGURE 1 ----------
const hmData=[hm1,hm2,hm3,hm4,hm5,hm6];
const HM={x0:8.0,x1:11.6,y0:-2.1,y1:3.1,w:200,h:174};
const hmPX=[2000,2224,2448], hmPY=[177,398];
hmData.forEach((grid,p)=>{
  const X0=hmPX[p%3], Y0=hmPY[Math.floor(p/3)];
  const sx=v=>X0+(v-HM.x0)/(HM.x1-HM.x0)*HM.w;
  const sy=v=>Y0+(HM.y1-v)/(HM.y1-HM.y0)*HM.h;
  const g=mk('g',{});
  
  
  const nr=grid.length,nc=grid[0].length,dx=(HM.x1-HM.x0)/nc,dy=(HM.y1-HM.y0)/nr;
  grid.forEach((row,r)=>{for(let c=0;c<nc;c++){
    const v=+row[c],xa=HM.x0+c*dx,ya=HM.y1-r*dy;
    const cell=mk('rect',{x:sx(xa),y:sy(ya),width:sx(xa+dx)-sx(xa)+0.4,height:sy(ya-dy)-sy(ya)+0.4,fill:hmColors[v]},g);
    
    
  }});
  const fr=mk('rect',{x:X0,y:Y0,width:HM.w,height:HM.h,fill:'none',stroke:'#888','stroke-width':0.6},g);
  
  
  const t=txt(hmTitles[p],{x:X0+HM.w/2,y:Y0-8,'text-anchor':'middle','font-size':17,fill:'#111'},g);
  
  
  hmYTicks.forEach((v,i)=>{
    const l=txt(hmYTickLabels[i],{x:X0-5,y:sy(v)+5,'text-anchor':'end','font-size':14,fill:'#111'},g);
    
    
  });
  hmXTicks.forEach(v=>{
    const l=txt(String(v),{x:sx(v),y:Y0+HM.h+21,'text-anchor':'middle','font-size':14,fill:'#111'},g);
    
    
  });
  if(p%3===0){
    const yt=txt('',{transform:`translate(${X0-34},${Y0+HM.h/2}) rotate(-90)`,'text-anchor':'middle','font-size':14,fill:'#111'},g);
    yt.innerHTML='Log <tspan font-size="10" dy="3">10</tspan><tspan dy="-3"> SFR (M</tspan><tspan font-size="10" dy="3">⊙</tspan><tspan dy="-3">/yr)</tspan>';
    
    
  }
  if(p>=3){
    const xt=txt('',{x:X0+HM.w/2,y:Y0+HM.h+42,'text-anchor':'middle','font-size':15,fill:'#111'},g);
    xt.innerHTML='Log<tspan font-size="10" dy="3">10</tspan><tspan dy="-3"> Stellar mass (M</tspan><tspan font-size="10" dy="3">⊙</tspan><tspan dy="-3">)</tspan>';
    
    
  }
});

// ---------- FIGURE 2 ----------
const f2Series=[f2Z02,f2Z05,f2Z08,f2Z10,f2Z13,f2Z16];
const f2Colors=['#000000','#e8201a','#2ed12e','#1a1ae0','#f0f01a','#3ee8f0'];
function drawF2(X0,alphas,betas,label,legend,pname){
  const W=280,Y0=703,H=192,xmin=8.0,xmax=11.5,ymin=-1.48,ymax=3.17;
  const sx=v=>X0+(v-xmin)/(xmax-xmin)*W, sy=v=>Y0+(ymax-v)/(ymax-ymin)*H;
  const g=mk('g',{});
  
  
  const fr=mk('rect',{x:X0,y:Y0,width:W,height:H,fill:'none',stroke:'#777','stroke-width':0.8},g);
  
  
  f2XTicks.forEach((v,i)=>{
    mk('line',{x1:sx(v),x2:sx(v),y1:Y0+H,y2:Y0+H-6,stroke:'#777','stroke-width':0.8},g);
    mk('line',{x1:sx(v),x2:sx(v),y1:Y0,y2:Y0+6,stroke:'#777','stroke-width':0.8},g);
    const l=txt(f2XTickLabels[i],{x:sx(v),y:Y0+H+24,'text-anchor':'middle','font-size':17,fill:'#111'},g);
    
    
  });
  f2YTicks.forEach((v,i)=>{
    mk('line',{x1:X0,x2:X0+6,y1:sy(v),y2:sy(v),stroke:'#777','stroke-width':0.8},g);
    mk('line',{x1:X0+W,x2:X0+W-6,y1:sy(v),y2:sy(v),stroke:'#777','stroke-width':0.8},g);
    const l=txt(f2YTickLabels[i],{x:X0-8,y:sy(v)+6,'text-anchor':'end','font-size':17,fill:'#111'},g);
    
    
  });
  const yt=txt('',{transform:`translate(${X0-44},${Y0+H/2}) rotate(-90)`,'text-anchor':'middle','font-size':17,fill:'#111'},g);
  yt.innerHTML='Log <tspan font-size="11" dy="4">10</tspan><tspan dy="-4"> SFR (M</tspan><tspan font-size="11" dy="4">⊙</tspan><tspan dy="-4">/yr)</tspan>';
  
  
  const xt=txt('',{x:X0+W/2,y:Y0+H+48,'text-anchor':'middle','font-size':17,fill:'#111'},g);
  xt.innerHTML='Log<tspan font-size="11" dy="4">10</tspan><tspan dy="-4"> Stellar mass (M</tspan><tspan font-size="11" dy="4">⊙</tspan><tspan dy="-4">)</tspan>';
  
  
  const lab=txt(label,{x:X0+22,y:Y0+28,'font-size':12,fill:'#111','letter-spacing':0.6},g);
  
  
  // error bars + open circles
  f2Series.forEach((ser,s)=>{
    ser.forEach((v,i)=>{
      const m=f2Mass[i];
      const eb=mk('line',{x1:sx(m),x2:sx(m),y1:sy(v+f2Err[i]),y2:sy(v-f2Err[i]),stroke:f2Colors[s]==='#000000'?'#777':f2Colors[s],'stroke-width':1,opacity:0.5},g);
      
      
      if(m<f2Limit[s]){
        const c=mk('circle',{cx:sx(m),cy:sy(v),r:5.5,fill:'none',stroke:f2Colors[s]==='#000000'?'#666':f2Colors[s],'stroke-width':1,opacity:0.75},g);
        
        
      }
    });
  });
  // fit lines
  f2Series.forEach((ser,s)=>{
    const f=m=>alphas[s]+betas[s]*m;
    const lim=f2Limit[s], m0=f2Mass[0], m1=xmax;
    const d=mk('line',{x1:sx(m0),y1:sy(f(m0)),x2:sx(lim),y2:sy(f(lim)),stroke:f2Colors[s],'stroke-width':2.4,'stroke-dasharray':'6,4'},g);
    
    
    const so=mk('line',{x1:sx(lim),y1:sy(f(lim)),x2:sx(m1),y2:sy(f(m1)),stroke:f2Colors[s],'stroke-width':2.4},g);
    
    
  });
  // filled circles
  f2Series.forEach((ser,s)=>{
    ser.forEach((v,i)=>{
      const m=f2Mass[i];
      if(m>=f2Limit[s]){
        const c=mk('circle',{cx:sx(m),cy:sy(v),r:5.5,fill:f2Colors[s]},g);
        
        
      }
    });
  });
  if(legend){
    f2Labels.forEach((t,s)=>{
      const ly=Y0+113+s*12.6;
      const lt=txt(t,{x:X0+W-33,y:ly+4,'text-anchor':'end','font-size':11.5,fill:'#111'},g);
      
      
      const lc=mk('circle',{cx:X0+W-22,cy:ly,r:4,fill:f2Colors[s]},g);
      
      
    });
  }
}
drawF2(1996,fitAlpha,fitBeta,'Power−law fit',true,'power-law-fit-panel');
drawF2(2368,fixAlpha,fixBeta,'Power−law slope fixed',false,'power-law-fixed-panel');

// ---------- FIGURE 3 LEFT ----------
(function(){
  const X0=3859,W=264,Y0=193,H=194,xmin=7.76,xmax=12.24,ytop=-0.88,ybot=-8.35;
  const sx=v=>X0+(v-xmin)/(xmax-xmin)*W, sy=v=>Y0+(ytop-v)/(ytop-ybot)*H;
  const g=mk('g',{});
  
  
  const cp=mk('clipPath',{id:'smfclip'},g);
  mk('rect',{x:X0,y:Y0,width:W,height:H},cp);
  const fr=mk('rect',{x:X0,y:Y0,width:W,height:H,fill:'none',stroke:'#555','stroke-width':0.8},g);
  
  
  smfXTicks.forEach(v=>{
    mk('line',{x1:sx(v),x2:sx(v),y1:Y0+H,y2:Y0+H-6,stroke:'#555'},g);
    mk('line',{x1:sx(v),x2:sx(v),y1:Y0,y2:Y0+6,stroke:'#555'},g);
    const l=txt(String(v),{x:sx(v),y:Y0+H+22,'text-anchor':'middle','font-size':16,fill:'#111'},g);
    
    
  });
  smfYTicks.forEach(v=>{
    mk('line',{x1:X0,x2:X0+6,y1:sy(v),y2:sy(v),stroke:'#555'},g);
    mk('line',{x1:X0+W,x2:X0+W-6,y1:sy(v),y2:sy(v),stroke:'#555'},g);
    const l=txt('',{x:X0-4,y:sy(v)+6,'text-anchor':'end','font-size':15,fill:'#111'},g);
    l.innerHTML='10<tspan font-size="10" dy="-7">−'+(-v)+'</tspan>';
    
    
  });
  const yt=txt('',{transform:`translate(${X0-50},${Y0+H/2}) rotate(-90)`,'text-anchor':'middle','font-size':15,fill:'#111'},g);
  yt.innerHTML='SMF (h<tspan font-size="10" dy="-6">3</tspan><tspan dy="6"> Mpc</tspan><tspan font-size="10" dy="-6">−3</tspan><tspan dy="6">dex</tspan><tspan font-size="10" dy="-6">−1</tspan><tspan dy="6">)</tspan>';
  
  
  const xt=txt('',{x:X0+W/2+5,y:Y0+H+44,'text-anchor':'middle','font-size':16,fill:'#111'},g);
  xt.innerHTML='Log<tspan font-size="10" dy="4">10</tspan><tspan dy="-4">  Stellar mass (h</tspan><tspan font-size="10" dy="-6">−2</tspan><tspan dy="6"> M</tspan><tspan font-size="10" dy="3">⊙</tspan><tspan dy="-3">)</tspan>';
  
  
  const cg=mk('g',{'clip-path':'url(#smfclip)'},g);
  guoMass.forEach((m,i)=>{
    const c=mk('circle',{cx:sx(m),cy:sy(guoPhi[i]),r:3.6,fill:'none',stroke:'#999','stroke-width':0.8},cg);
    
    
  });
  const pts=(arr)=>smfMass.map((m,i)=>sx(m)+','+sy(arr[i])).join(' ');
  const curves=[[smfSatellite,'#3a3aff','1,2',1.2,'satellite-curve'],[smfCentral,'#c0201a','6,2,1,2',1.3,'central-curve'],[smfTotal,'#000','5,3',1.4,'total-curve'],[smfMassErr,'#000','',1.4,'total-mass-error-curve']];
  curves.forEach(cv=>{
    const p=mk('polyline',{points:pts(cv[0]),fill:'none',stroke:cv[1],'stroke-width':cv[3],'stroke-dasharray':cv[2]},cg);
    
    
  });
  const leg=[['#000','5,3','CSMF: total'],['#c0201a','6,2,1,2','CSMF: central'],['#3a3aff','1,2','CSMF: satellite'],[null,'','Guo et al. 2010'],['#000','','CSMF: total (mass error added)']];
  leg.forEach((e,i)=>{
    const ly=332+i*10.8;
    if(e[0]){const l=mk('line',{x1:3878,x2:3913,y1:ly,y2:ly,stroke:e[0],'stroke-width':1.3,'stroke-dasharray':e[1]},g);
      
      }
    else{const c=mk('circle',{cx:3896,cy:ly,r:3,fill:'none',stroke:'#999'},g);
      
      }
    const t=txt(e[2],{x:3922,y:ly+3.5,'font-size':9.5,fill:'#111'},g);
    
    
  });
})();

// ---------- FIGURE 3 RIGHT ----------
(function(){
  const oneH=[oneHalo1,oneHalo2,oneHalo3,oneHalo4,oneHalo5], twoH=[twoHalo1,twoHalo2,twoHalo3,twoHalo4,twoHalo5];
  const PX=[4200,4306,4412], PY=[184,299], W=106, H=115, lx0=-1.07, lx1=1.93, ly0=-0.27, ly1=3.03;
  const g=mk('g',{});
  
  
  for(let p=0;p<6;p++){
    const X0=PX[p%3],Y0=PY[Math.floor(p/3)];
    const sx=v=>X0+(Math.log10(v)-lx0)/(lx1-lx0)*W, sy=v=>Y0+(ly1-Math.log10(v))/(ly1-ly0)*H;
    const fr=mk('rect',{x:X0,y:Y0,width:W,height:H,fill:'none',stroke:'#666','stroke-width':0.7},g);
    
    
    if(p<5){
      const cp=mk('clipPath',{id:'wpc'+p},g);
      mk('rect',{x:X0,y:Y0,width:W,height:H},cp);
      const cg=mk('g',{'clip-path':'url(#wpc'+p+')'},g);
      const tot=rpGrid.map((r,i)=>oneH[p][i]+twoH[p][i]);
      liRp.forEach(r=>{
        const v=Math.pow(10,interp(rpGrid.map(Math.log10),tot.map(Math.log10),Math.log10(r)));
        const c=mk('circle',{cx:sx(r),cy:sy(v),r:2.2,fill:'none',stroke:'#999','stroke-width':0.7},cg);
        
        
      });
      const pl=arr=>rpGrid.map((r,i)=>sx(r)+','+sy(Math.max(arr[i],1e-4))).join(' ');
      const a=mk('polyline',{points:pl(oneH[p]),fill:'none',stroke:'#2233dd','stroke-width':1.4,'stroke-dasharray':'5,3'},cg);
      
      
      const b=mk('polyline',{points:pl(twoH[p]),fill:'none',stroke:'#b02018','stroke-width':1.3,'stroke-dasharray':'5,2,1,2'},cg);
      
      
      const c=mk('polyline',{points:pl(tot),fill:'none',stroke:'#000','stroke-width':1.3},cg);
      
      
      const lb=txt(wpBins[p],{x:X0+3,y:Y0+H-4,'font-size':12,fill:'#111'},g);
      
      
    }
    if(p%3===0){
      wpYTicks.forEach(v=>{
        const l=txt(String(v),{x:X0-3,y:sy(v)+3,'text-anchor':'end','font-size':7.5,fill:'#999'},g);
        
        
      });
    }
    if(p>=3){
      wpXTicks.forEach((v,i)=>{
        const l=txt(wpXTickLabels[i],{x:sx(v),y:Y0+H+12,'text-anchor':'middle','font-size':8.5,fill:'#aaa'},g);
        
        
      });
    }
  }
  const yt=txt('',{transform:'translate(4168,300) rotate(-90)','text-anchor':'middle','font-size':11,fill:'#aaa'},g);
  yt.innerHTML='w<tspan font-size="8" dy="3">p</tspan><tspan dy="-3"> (r</tspan><tspan font-size="8" dy="3">p</tspan><tspan dy="-3">)  (h</tspan><tspan font-size="8" dy="-4">−1</tspan><tspan dy="4">Mpc)</tspan>';
  
  
  const xt=txt('',{x:4358,y:441,'text-anchor':'middle','font-size':12,fill:'#aaa'},g);
  xt.innerHTML='Transverse separation r<tspan font-size="8" dy="3">p</tspan><tspan dy="-3"> (h</tspan><tspan font-size="8" dy="-4">−1</tspan><tspan dy="4">Mpc)</tspan>';
  
  
  const leg=[['#000','','CSMF:total'],['#2233dd','5,3','CSMF:1−halo'],['#b02018','5,2,1,2','CSMF:2−halo'],[null,'','Li et al. 2006']];
  leg.forEach((e,i)=>{
    const ly=375+i*11;
    if(e[0]){const l=mk('line',{x1:4418,x2:4451,y1:ly,y2:ly,stroke:e[0],'stroke-width':1.3,'stroke-dasharray':e[1]},g);
      
      }
    else{const c=mk('circle',{cx:4434,cy:ly,r:2.5,fill:'none',stroke:'#999'},g);
      
      }
    const t=txt(e[2],{x:4456,y:ly+3,'font-size':8.5,fill:'#111'},g);
    
    
  });
})();
</script>
</body></html>
